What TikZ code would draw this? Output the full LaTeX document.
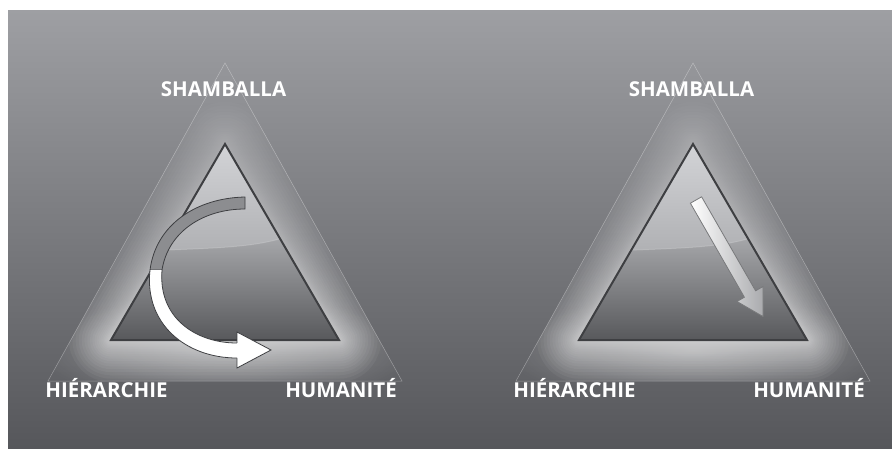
\documentclass[tikz,border=0pt]{standalone}
\usepackage{fontspec}
\setsansfont{Open Sans}
\usetikzlibrary{
    calc,                             % aritmetica de coordenadas
    fadings                           % halo transparent
}
\definecolor{fond_haut}{RGB}{158,159,163}
\definecolor{fond_bas}{RGB}{86,87,91}
\definecolor{clair_haut}{RGB}{212,213,216}
\definecolor{clair_bas}{RGB}{172,173,176}
\definecolor{sombre_haut}{RGB}{170,171,174}
\definecolor{sombre_milieu}{RGB}{120,121,124}
\definecolor{sombre_bas}{RGB}{84,85,88}
\definecolor{trait_fonce}{RGB}{62,63,66}
\definecolor{bande_grise}{RGB}{140,141,144}
\tikzfading[name=halo bas, inner color=transparent!0, outer color=transparent!100]
\tikzfading[name=voile haut, top color=transparent!25, bottom color=transparent!100]
\tikzset{
    etiquette/.style={
        font=\sffamily\bfseries\fontsize{20.5}{22}\selectfont,
        text=white, inner sep=0pt, anchor=base
    },
    halo/.style={
        draw=white, draw opacity=0.045, line join=round
    },
    contour/.style={
        draw=trait_fonce, line width=2pt, line join=miter
    },
    arete/.style={
        draw=white, draw opacity=0.35, line width=0.5pt
    },
    reflet/.style={
        draw=white, draw opacity=0.18, line width=1pt
    },
    bord/.style={
        draw=trait_fonce, line width=0.8pt, line join=miter
    }
}

\begin{document}
\begin{tikzpicture}[x=1pt, y=-1pt]

    % --- Fond ---
    \useasboundingbox (0,0) rectangle (892,448);
    \fill[white] (0,0) rectangle (892,448);
    \shade[top color=fond_haut, bottom color=fond_bas] (8,10) rectangle (892,448);

    % --- Deux pyramides ---
    \foreach \dx/\cote in {0/g, 468/d} {
        \begin{scope}[xshift=\dx pt]
            % halo entre les deux triangles
            \begin{scope}
                \clip (48,381) -- (225,63) -- (402,381) -- cycle;
                \fill[white, fill opacity=0.35, path fading=halo bas] (225,350) ellipse [x radius=190, y radius=55];
                \foreach \k in {1,...,24}
                    \draw[halo, line width={2*42*(\k/24)^2*1pt}] (111,340) -- (225,144) -- (339,340) -- cycle;
                % voile qui adoucit le halo vers le sommet
                \shade[top color=fond_haut!90!fond_bas, bottom color=fond_haut!35!fond_bas,
                       path fading=voile haut] (40,60) rectangle (410,330);
            \end{scope}

            % triangle interieur
            \begin{scope}
                \clip (111,340) -- (225,144) -- (339,340) -- cycle;
                \shade[top color=clair_haut, bottom color=clair_bas] (100,140) rectangle (350,262);
                \shade[top color=sombre_haut, middle color=sombre_milieu, bottom color=sombre_bas]
                    (100,253) .. controls (220,247) and (255,250) .. (300,232)
                    -- (350,232) -- (350,345) -- (100,345) -- cycle;
                \draw[reflet] (100,253) .. controls (220,247) and (255,250) .. (300,232);
            \end{scope}
            \draw[contour] (111,340) -- (225,144) -- (339,340) -- cycle;
            \draw[arete] (48,381) -- (225,63) -- (402,381) -- cycle;

            % etiquettes
            \node[etiquette] (sham-\cote) at (223.5,96)  {SHAMBALLA};
            \node[etiquette] (hier-\cote) at (106.5,397) {HIÉRARCHIE};
            \node[etiquette] (huma-\cote) at (341,397)   {HUMANITÉ};
        \end{scope}
    }

    % --- Fleche courbe (gauche) ---
    \filldraw[bord, fill=bande_grise]
        (245,197) .. controls (197,198) and (156,224) .. (150,270)
        -- (162,270) .. controls (168,232) and (203,209) .. (245,209) -- cycle;
    \filldraw[bord, fill=white] (237,332) -- (271,350) -- (237,368) -- cycle;
    \fill[white]
        (150,270) .. controls (144,324) and (186,358) .. (237,358) -- (239.5,358)
        -- (239.5,343) -- (237,343) .. controls (196,343) and (158,318) .. (162,270) -- cycle;
    \draw[bord] (150,270) .. controls (144,324) and (186,358) .. (237,358);
    \draw[bord] (237,343) .. controls (196,343) and (158,318) .. (162,270);

    % --- Fleche droite (droite) ---
    \draw[bord, draw=trait_fonce!70, left color=white, right color=sombre_haut]
        (701.6,196.8) -- (755.6,290.8) -- (763,286.5) -- (763,316.5)
        -- (737,301.5) -- (744.4,297.2) -- (690.4,203.2) -- cycle;

\end{tikzpicture}
\end{document}
